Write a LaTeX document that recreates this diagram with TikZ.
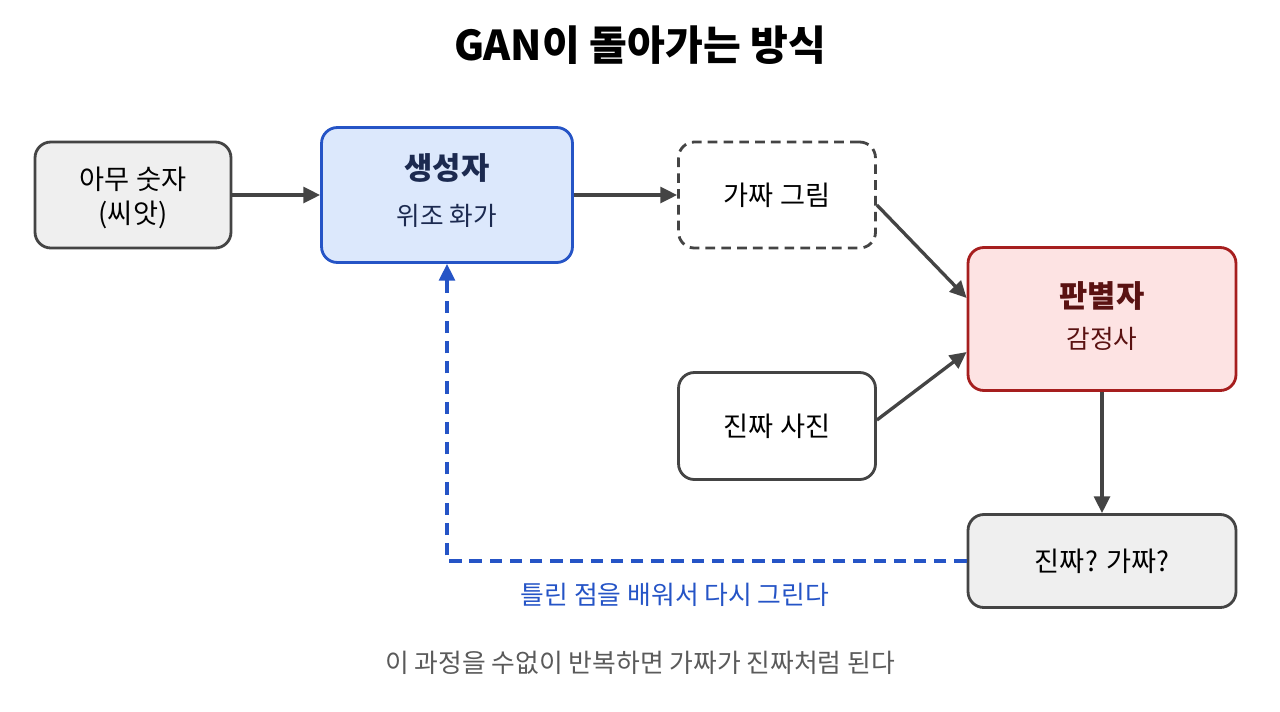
\documentclass[tikz,border=0pt]{standalone}
\usepackage{fontspec}
\setmainfont{Noto Sans CJK KR}
\usepackage{xcolor}
\usetikzlibrary{arrows.meta,positioning,calc}
\definecolor{grisborde}{RGB}{68,68,68}
\definecolor{grisfondo}{RGB}{239,239,239}
\definecolor{azul}{RGB}{37,84,198}
\definecolor{azulfondo}{RGB}{220,232,252}
\definecolor{azultexto}{RGB}{28,42,80}
\definecolor{rojo}{RGB}{166,30,30}
\definecolor{rojofondo}{RGB}{253,227,227}
\definecolor{rojotexto}{RGB}{90,18,18}
\definecolor{gristexto}{RGB}{90,90,90}

\begin{document}
\begin{tikzpicture}[x=0.02cm,y=-0.02cm,
caja/.style={draw=grisborde,line width=1.6pt,rounded corners=9pt,align=center,font=\fontsize{15.5}{19.5}\selectfont},
gris/.style={caja,fill=grisfondo},
blanco/.style={caja,fill=white},
punteada/.style={caja,fill=white,dashed,dash pattern=on 5.5pt off 3.5pt},
generador/.style={caja,draw=azul,fill=azulfondo},
discriminador/.style={caja,draw=rojo,fill=rojofondo},
titulo/.style={font=\fontsize{17.5}{21}\selectfont\bfseries},
sub/.style={font=\fontsize{14.6}{18}\selectfont},
arr/.style={-{Triangle[length=9.5pt,width=9pt]},line width=1.9pt,draw=grisborde},
retro/.style={-{Triangle[length=9.5pt,width=9pt]},line width=1.9pt,draw=azul,dashed,dash pattern=on 7pt off 4.5pt}
]
\useasboundingbox (0,0) rectangle (1280,711);

\node[font=\fontsize{23.4}{28}\selectfont\bfseries] (cabecera) at (640,45) {GAN이 돌아가는 방식};

\node[gris,minimum width=3.92cm,minimum height=2.12cm,text depth=0pt] (semilla) at (133,195) {아무 숫자\\(씨앗)};

\node[generador,minimum width=5.02cm,minimum height=2.7cm] (gen) at (447,195) {};
\node[titulo,text=azultexto] (gentit) at (447,168) {생성자};
\node[sub,text=azultexto] (gensub) at (447,216) {위조 화가};

\node[punteada,minimum width=3.94cm,minimum height=2.12cm] (falso) at (777,195) {가짜 그림};
\node[blanco,minimum width=3.94cm,minimum height=2.14cm] (real) at (777,426) {진짜 사진};

\node[discriminador,minimum width=5.36cm,minimum height=2.86cm] (disc) at (1102,319) {};
\node[titulo,text=rojotexto] (disctit) at (1102,296) {판별자};
\node[sub,text=rojotexto] (discsub) at (1102,339) {감정사};

\node[gris,minimum width=5.36cm,minimum height=1.86cm] (veredicto) at (1102,561) {진짜? 가짜?};

% flujo principal
\draw[arr] (semilla) -- (gen);
\draw[arr] (gen) -- (falso);
\draw[arr] ($(falso.east)+(0,10)$) -- ($(disc.west)+(0,-21)$);
\draw[arr] ($(real.east)+(0,-6)$) -- ($(disc.west)+(0,33)$);
\draw[arr] (disc) -- (veredicto);

% retroalimentacion
\draw[retro] (veredicto.west) -| (gen.south);
\node[font=\fontsize{14.7}{18}\selectfont,text=azul] (aprende) at (675,595) {틀린 점을 배워서 다시 그린다};

\node[font=\fontsize{14.7}{18}\selectfont,text=gristexto] (nota) at (640,663) {이 과정을 수없이 반복하면 가짜가 진짜처럼 된다};
\end{tikzpicture}
\end{document}
